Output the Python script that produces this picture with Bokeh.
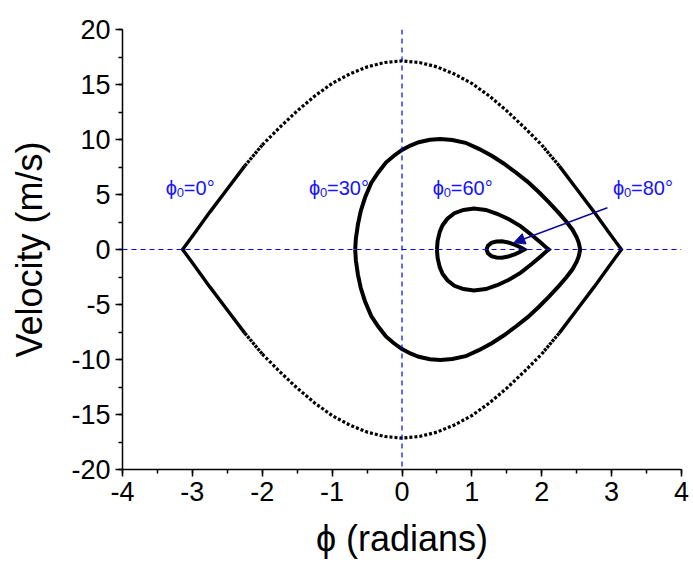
from bokeh.plotting import figure
from bokeh.models import Range1d, SingleIntervalTicker, Span, Arrow, NormalHead
from bokeh.embed import file_html
from bokeh.resources import INLINE
from bokeh.core.properties import value

# Phase trajectories: upper branch (v >= 0) of each orbit, phi in radians, v in m/s.
# The lower branch of every orbit is the mirror image of the upper one in v.
phi_0deg = [-3.14, -3.0, -2.75, -2.5, -2.25, -2.0, -1.75, -1.5, -1.25, -1.0, -0.75,
            -0.5, -0.25, 0.0, 0.25, 0.5, 0.75, 1.0, 1.25, 1.5, 1.75, 2.0, 2.25,
            2.5, 2.75, 3.0, 3.14]
v_0deg = [0.0, 1.2, 3.4, 5.5, 7.6, 9.5, 11.1, 12.6, 13.95, 15.1, 15.95,
          16.6, 17.0, 17.15, 17.0, 16.6, 15.95, 15.1, 13.95, 12.6, 11.1, 9.5, 7.6,
          5.5, 3.4, 1.2, 0.0]

phi_30deg = [-0.67, -0.66, -0.63, -0.59, -0.53, -0.44, -0.34, -0.23, -0.12, 0.0,
             0.12, 0.24, 0.4, 0.55, 0.72, 0.91, 1.1, 1.29, 1.46, 1.63, 1.8, 1.96,
             2.1, 2.24, 2.35, 2.44, 2.5, 2.53, 2.55]
v_30deg = [0.0, 1.0, 2.3, 3.5, 4.7, 6.05, 7.0, 7.9, 8.5, 9.05,
           9.45, 9.75, 9.98, 10.05, 9.95, 9.7, 9.15, 8.5, 7.8, 7.0, 6.15, 5.2,
           4.3, 3.35, 2.55, 1.8, 1.1, 0.6, 0.0]

phi_60deg = [0.50, 0.51, 0.54, 0.58, 0.65, 0.75, 0.88, 1.03, 1.2, 1.36, 1.53,
             1.7, 1.86, 1.98, 2.06, 2.10]
v_60deg = [0.0, 0.8, 1.6, 2.2, 2.8, 3.3, 3.6, 3.72, 3.6, 3.25, 2.75,
           2.1, 1.3, 0.65, 0.2, 0.0]

phi_80deg = [1.21, 1.23, 1.28, 1.35, 1.43, 1.52, 1.62, 1.70, 1.75]
v_80deg = [0.0, 0.35, 0.6, 0.72, 0.74, 0.64, 0.42, 0.18, 0.0]

# Initial angles shown next to the orbits
labels_deg = ["0", "30", "60", "80"]
x_ticks = [-4, -3, -2, -1, 0, 1, 2, 3, 4]
y_ticks = [-20, -15, -10, -5, 0, 5, 10, 15, 20]

FONT = "Liberation Sans"
BLUE = "#1414ff"
NAVY = "#0c0c9c"


def closed_orbit(phi, v):
    xs = list(phi) + list(phi[::-1])
    ys = list(v) + [-y for y in v[::-1]]
    return xs, ys


p = figure(width=693, height=576, output_backend="svg", toolbar_location=None,
           x_range=Range1d(x_ticks[0], x_ticks[-1]),
           y_range=Range1d(y_ticks[0], y_ticks[-1]),
           min_border_left=122, min_border_right=12,
           min_border_top=29, min_border_bottom=107)
p.outline_line_color = None
p.grid.visible = False
p.background_fill_color = "white"
p.border_fill_color = "white"

# axes
p.xaxis.ticker = SingleIntervalTicker(interval=1, num_minor_ticks=2)
p.yaxis.ticker = SingleIntervalTicker(interval=5, num_minor_ticks=2)
p.xaxis.major_label_overrides = {t: str(t) for t in x_ticks}
p.yaxis.major_label_overrides = {t: str(t) for t in y_ticks}
for ax in (p.xaxis, p.yaxis):
    ax.axis_line_color = "black"
    ax.axis_line_width = 1.5
    ax.major_tick_line_color = "black"
    ax.major_tick_line_width = 1.5
    ax.minor_tick_line_color = "black"
    ax.minor_tick_line_width = 1.5
    ax.major_tick_in = 0
    ax.major_tick_out = 7
    ax.minor_tick_in = 0
    ax.minor_tick_out = 4
    ax.major_label_text_font = FONT
    ax.major_label_text_font_size = "27px"
    ax.major_label_text_color = "black"
    ax.axis_label_text_font = FONT
    ax.axis_label_text_font_size = "36px"
    ax.axis_label_text_font_style = "normal"
    ax.axis_label_text_color = "black"
p.xaxis.axis_label = "\u03d5 (radians)"
p.yaxis.axis_label = "Velocity (m/s)"
p.xaxis.major_label_standoff = 5
p.yaxis.major_label_standoff = 5
p.xaxis.axis_label_standoff = 14
p.yaxis.axis_label_standoff = 18

# dashed reference lines through the origin
p.add_layout(Span(location=0, dimension="width", line_color="#0000ff",
                  line_width=1.2, line_dash="5 4"))
p.add_layout(Span(location=0, dimension="height", line_color="#0000ff",
                  line_width=1.2, line_dash="5 4"))

# outer orbit: sparse dots near the top, dense (solid looking) near the cusps
edge = 2.0
top_x = [x for x in phi_0deg if abs(x) <= edge]
top_y = [y for x, y in zip(phi_0deg, v_0deg) if abs(x) <= edge]
p.line(top_x, top_y, line_color="black", line_width=3.2, line_dash="3 2")
p.line(top_x, [-y for y in top_y], line_color="black", line_width=3.2, line_dash="3 2")

mid_x = [x for x in phi_0deg if edge <= abs(x) <= 2.25]
mid_y = [y for x, y in zip(phi_0deg, v_0deg) if edge <= abs(x) <= 2.25]
for i in (0, 2):
    xs, ys = mid_x[i:i + 2], mid_y[i:i + 2]
    p.line(xs, ys, line_color="black", line_width=3.3, line_dash="3 1")
    p.line(xs, [-y for y in ys], line_color="black", line_width=3.3, line_dash="3 1")

left_x = [x for x in phi_0deg if x <= -2.25]
left_y = [y for x, y in zip(phi_0deg, v_0deg) if x <= -2.25]
right_x = [x for x in phi_0deg if x >= 2.25]
right_y = [y for x, y in zip(phi_0deg, v_0deg) if x >= 2.25]
p.line(left_x[::-1] + left_x[1:], left_y[::-1] + [-y for y in left_y[1:]],
       line_color="black", line_width=3.4, line_join="miter")
p.line(right_x + right_x[::-1][1:], right_y + [-y for y in right_y[::-1][1:]],
       line_color="black", line_width=3.4, line_join="miter")

# inner orbits
for phi, v in ((phi_30deg, v_30deg), (phi_60deg, v_60deg), (phi_80deg, v_80deg)):
    xs, ys = closed_orbit(phi, v)
    p.line(xs, ys, line_color="black", line_width=4, line_join="miter")

# annotation labels "phi_0 = N deg"
label_x = [-3.38, -1.33, 0.44, 3.02]
label_y = 5.6
for lx, deg in zip(label_x, labels_deg):
    p.text([lx], [label_y], text=["\u03d5"], text_font=value(FONT),
           text_font_size="20px", text_color=BLUE, text_baseline="alphabetic")
    p.text([lx], [label_y], text=["0"], x_offset=11, y_offset=5,
           text_font=value(FONT), text_font_size="13px", text_color=BLUE,
           text_baseline="alphabetic")
    p.text([lx], [label_y], text=["=" + deg + "\u00b0"], x_offset=18,
           text_font=value(FONT), text_font_size="20px", text_color=BLUE,
           text_baseline="alphabetic")

p.add_layout(Arrow(end=NormalHead(size=11, fill_color=NAVY, line_color=NAVY),
                   x_start=2.94, y_start=3.79, x_end=1.60, y_end=0.62,
                   line_color=NAVY, line_width=1.5))

open("out.html", "w").write(file_html(p, INLINE))
